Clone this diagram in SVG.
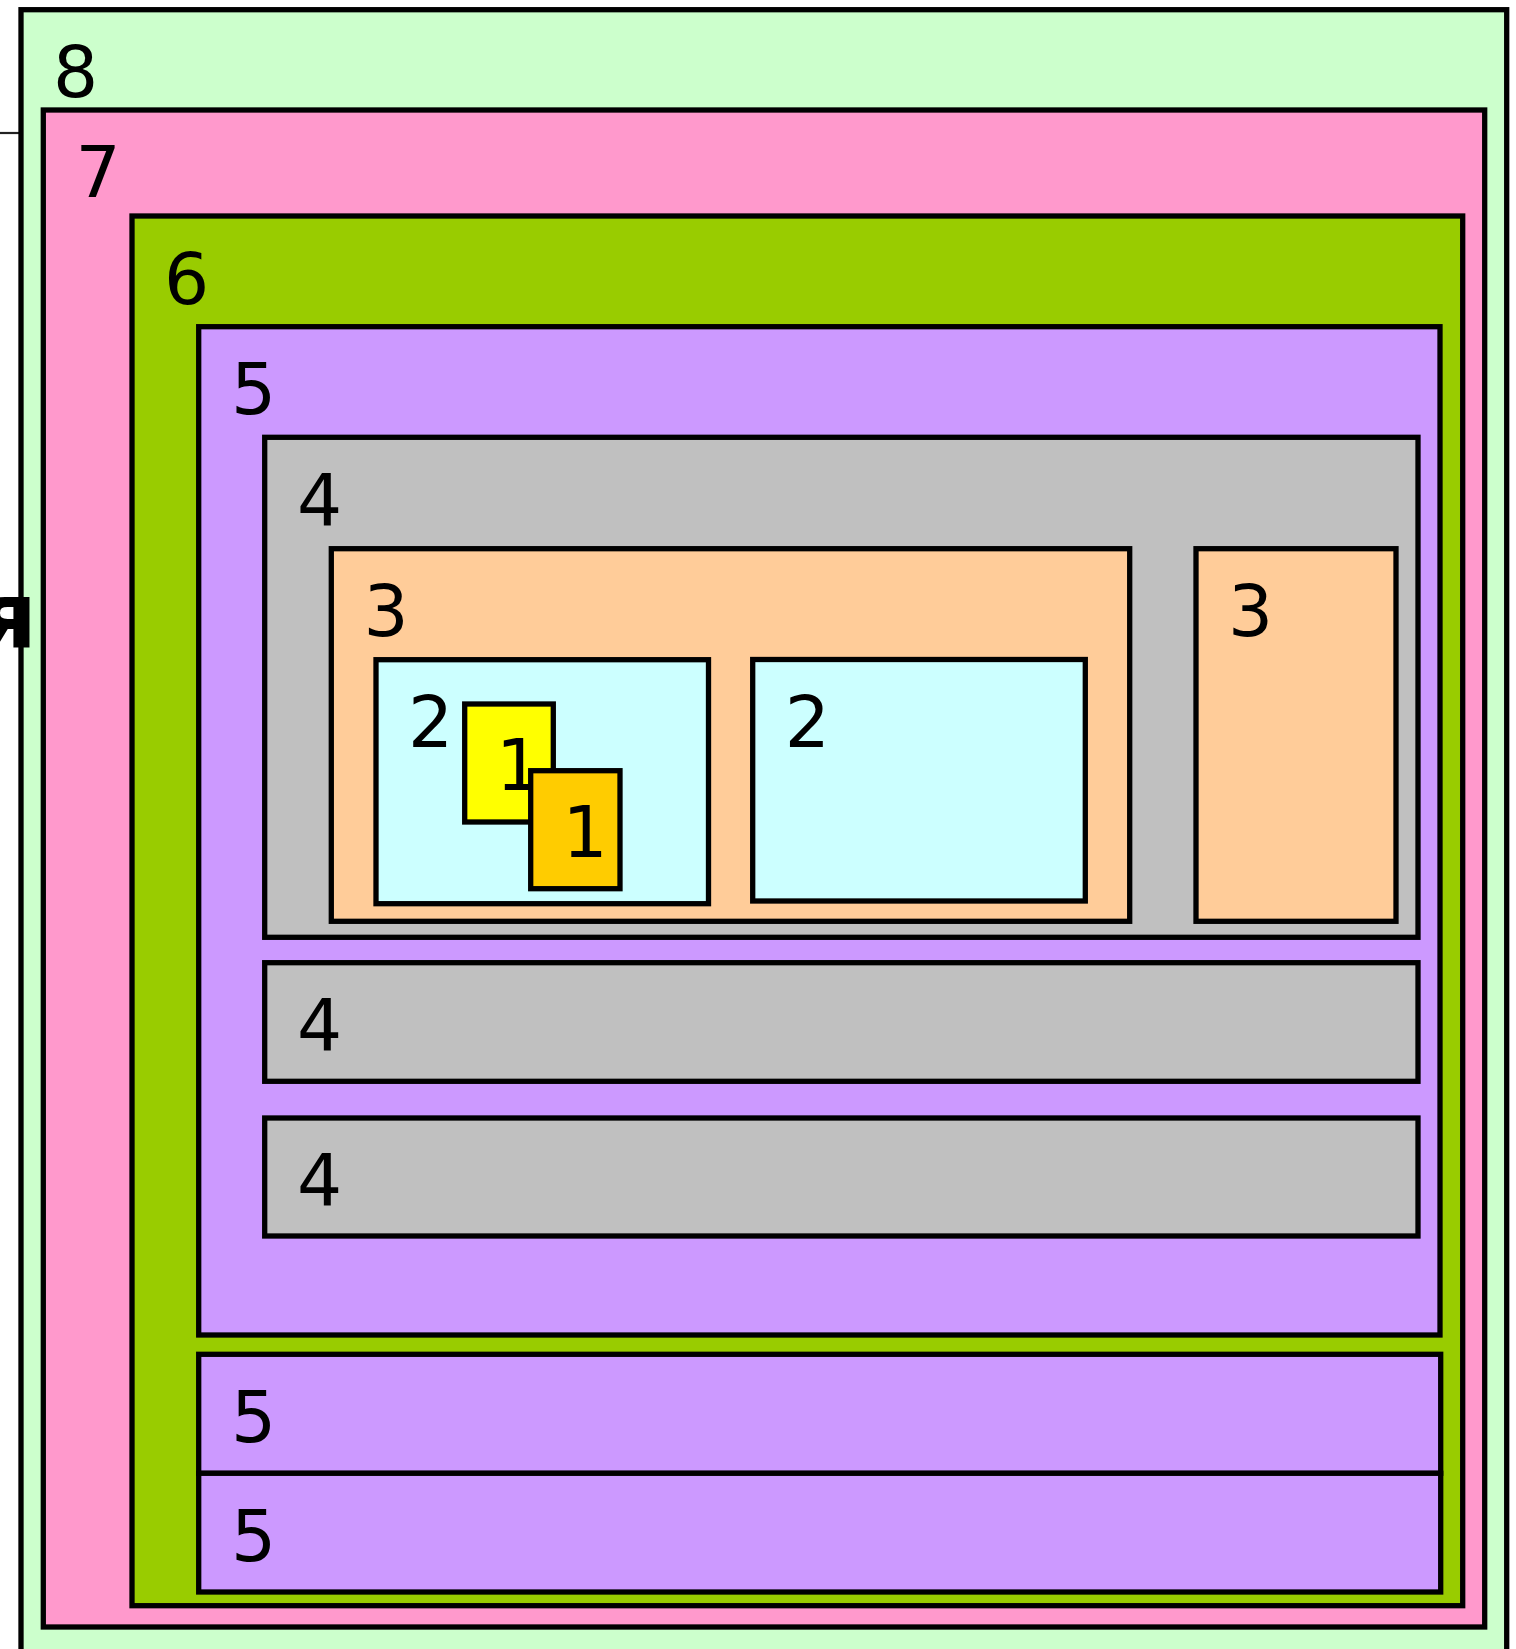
<svg xmlns="http://www.w3.org/2000/svg" width="1516" height="1649" viewBox="0 0 1516 1649">
<style>
rect{stroke:#000;stroke-width:5.3}
text{font-family:"DejaVu Sans",Verdana,sans-serif;font-size:71px;fill:#000}
.l8{fill:#CCFFCC}.l7{fill:#FF99CC}.l6{fill:#99CC00}.l5{fill:#CC99FF}.l4{fill:#C0C0C0}.l3{fill:#FFCC99}.l2{fill:#CCFFFF}.l1a{fill:#FFFF00}.l1b{fill:#FFCC00}
</style>
<rect width="1516" height="1649" fill="#fff" style="stroke:none"/>
<g id="connectors">
<line x1="0" y1="133" x2="19" y2="133" stroke="#222" stroke-width="2.2"/>
</g>
<g id="n8"><rect class="l8" x="21" y="9.7" width="1485.7" height="1680"/><text x="53" y="97">8</text></g>
<g id="n7"><rect class="l7" x="43.3" y="110" width="1441.4" height="1517"/><text x="75.5" y="197">7</text></g>
<g id="n6"><rect class="l6" x="132" y="216" width="1330.7" height="1389.7"/><text x="164" y="303.5">6</text></g>
<g id="n5a"><rect class="l5" x="198.7" y="326.7" width="1241.3" height="1008.3"/><text x="231" y="414">5</text></g>
<g id="n4a"><rect class="l4" x="264.7" y="437.3" width="1153.3" height="500"/><text x="297" y="524.5">4</text></g>
<g id="n3a"><rect class="l3" x="331.3" y="548.7" width="798.4" height="372.6"/><text x="363.5" y="636">3</text></g>
<g id="n3b"><rect class="l3" x="1196" y="548.7" width="200" height="372.6"/><text x="1228" y="636">3</text></g>
<g id="n2a"><rect class="l2" x="376" y="659.7" width="332.5" height="244"/><text x="408" y="747.3">2</text></g>
<g id="n2b"><rect class="l2" x="752.7" y="659.5" width="332.6" height="241.5"/><text x="784.7" y="747.3">2</text></g>
<g id="n1a"><rect class="l1a" x="464.7" y="704" width="88.6" height="118"/><text x="496" y="790">1</text></g>
<g id="n1b"><rect class="l1b" x="530.7" y="770.7" width="89.3" height="118"/><text x="562.5" y="857.3">1</text></g>
<g id="n4b"><rect class="l4" x="264.7" y="962.7" width="1153.3" height="118.6"/><text x="297" y="1050">4</text></g>
<g id="n4c"><rect class="l4" x="264.7" y="1118" width="1153.3" height="118"/><text x="297" y="1205">4</text></g>
<g id="n5b"><rect class="l5" x="198.7" y="1354.3" width="1242" height="119"/><text x="231" y="1441.5">5</text></g>
<g id="n5c"><rect class="l5" x="198.7" y="1473.3" width="1242" height="118.7"/><text x="231" y="1560.5">5</text></g>
<text x="37" y="648" text-anchor="end" style="font-weight:bold;font-size:92px">я</text>
</svg>
